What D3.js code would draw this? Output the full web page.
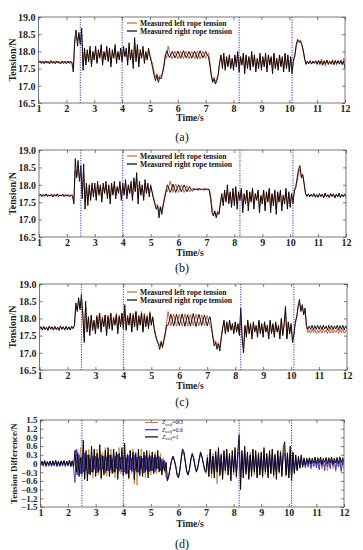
<!DOCTYPE html>
<html>
<head>
<meta charset="utf-8">
<script src="https://cdn.jsdelivr.net/npm/d3@7.9.0/dist/d3.min.js"></script>
<style>
  body { margin: 0; background: #fff; }
  svg { display: block; font-family: "Liberation Serif", "Times New Roman", serif; }
</style>
</head>
<body>
<svg id="chart" width="363" height="550"></svg>
<script>
// samples every 0.05 s from t = 1 s to t = 12 s (221 points per series)
const sampleStart = 1, sampleStep = 0.05;

const timeTicks = [1, 2, 3, 4, 5, 6, 7, 8, 9, 10, 11, 12];
const tensionTicks = [16.5, 17.0, 17.5, 18.0, 18.5, 19.0];
const diffTicks = [-1.5, -1.2, -0.9, -0.6, -0.3, 0, 0.3, 0.6, 0.9, 1.2, 1.5];
const markerTimes = [2.5, 4.0, 8.2, 10.1];
const ropeLabels = ['Measured left rope tension', 'Measured right rope tension'];
const dampingLabels = ['0.3', '0.6', '1'];

// (a)
const leftA = [
  17.70,17.67,17.72,17.66,17.71,17.67,17.72,17.65,17.71,17.68,17.72,17.66,17.71,17.67,17.72,17.65,17.70,17.67,17.72,17.66,
  17.71,17.67,17.72,17.66,17.70,17.55,18.25,18.45,18.30,18.50,18.25,18.50,17.60,18.00,17.70,17.95,17.75,18.05,17.65,17.95,
  17.80,18.05,17.70,17.95,17.85,18.10,17.70,17.95,17.80,18.05,17.75,18.00,17.65,17.95,17.85,18.10,17.75,17.95,17.80,18.05,
  17.75,18.05,17.85,18.00,17.70,18.15,17.80,17.95,17.65,18.25,17.80,18.10,17.65,17.95,17.85,18.05,17.75,17.95,17.80,18.00,
  17.90,17.75,17.60,17.40,17.25,17.35,17.20,17.30,17.28,17.40,17.60,17.90,17.80,18.15,18.00,17.88,17.78,17.90,18.00,17.89,
  17.78,17.89,18.00,17.90,17.79,17.90,18.01,17.89,17.78,17.90,18.00,17.91,17.79,17.89,18.01,17.90,17.78,17.89,18.00,17.90,
  17.80,17.90,17.95,17.70,17.35,17.15,17.25,17.10,17.20,17.35,17.65,17.85,17.60,17.85,17.55,17.80,17.60,17.85,17.55,17.75,
  17.55,17.85,17.60,17.90,17.50,17.80,17.65,17.85,17.45,17.85,17.60,17.80,17.55,17.90,17.60,17.85,17.50,17.75,17.60,17.85,
  17.55,17.80,17.60,17.85,17.50,17.85,17.65,17.80,17.45,17.90,17.55,17.75,17.55,17.85,17.60,17.80,17.50,17.90,17.55,17.85,
  17.50,17.80,17.45,17.70,17.85,18.15,18.30,18.25,18.30,18.18,18.00,17.78,17.65,17.70,17.66,17.71,17.64,17.70,17.67,17.72,
  17.65,17.72,17.60,17.78,17.63,17.70,17.58,17.74,17.66,17.70,17.62,17.76,17.64,17.71,17.60,17.75,17.65,17.70,17.62,17.80,
  17.70
];
const rightA = [
  17.68,17.72,17.65,17.71,17.64,17.72,17.66,17.71,17.64,17.73,17.65,17.71,17.64,17.72,17.66,17.70,17.64,17.72,17.65,17.71,
  17.64,17.72,17.65,17.71,17.66,17.40,18.35,18.62,18.15,18.55,18.20,18.68,17.45,18.10,17.60,18.05,17.70,18.15,17.55,18.00,
  17.75,18.15,17.65,18.05,17.80,18.20,17.60,18.00,17.75,18.15,17.70,18.10,17.55,18.05,17.80,18.20,17.65,18.00,17.75,18.10,
  17.70,18.15,17.85,18.10,17.60,18.25,17.75,18.05,17.50,18.40,17.70,18.20,17.55,18.05,17.80,18.15,17.65,18.00,17.75,18.10,
  17.85,17.70,17.50,17.30,17.15,17.30,17.10,17.25,17.20,17.35,17.55,17.85,18.02,17.92,17.82,17.90,18.00,17.91,17.81,17.90,
  18.01,17.91,17.80,17.90,18.02,17.92,17.81,17.89,18.00,17.90,17.80,17.91,18.01,17.90,17.79,17.90,18.02,17.91,17.81,17.90,
  18.00,17.90,17.85,17.60,17.30,17.10,17.20,17.05,17.15,17.30,17.70,17.90,17.50,17.95,17.45,17.85,17.55,17.90,17.50,17.80,
  17.45,17.90,17.55,18.00,17.40,17.85,17.60,17.95,17.35,17.90,17.50,17.85,17.45,18.00,17.55,17.90,17.40,17.80,17.50,17.95,
  17.45,17.85,17.55,17.95,17.40,17.90,17.60,17.85,17.35,17.95,17.50,17.80,17.45,17.90,17.55,17.85,17.40,17.95,17.50,17.90,
  17.40,17.85,17.35,17.75,17.90,18.20,18.35,18.28,18.32,18.20,18.05,17.80,17.62,17.72,17.64,17.73,17.63,17.72,17.65,17.73,
  17.62,17.74,17.64,17.72,17.60,17.73,17.65,17.75,17.62,17.71,17.64,17.73,17.61,17.74,17.65,17.72,17.63,17.74,17.62,17.72,
  17.50
];

// (b)
const leftB = [
  17.71,17.68,17.72,17.67,17.71,17.69,17.72,17.67,17.70,17.69,17.72,17.68,17.71,17.67,17.72,17.68,17.70,17.69,17.71,17.68,
  17.71,17.68,17.70,17.67,17.71,17.55,18.40,18.25,18.45,18.20,18.35,17.75,18.30,17.50,17.95,17.55,17.90,17.65,17.95,17.75,
  17.95,17.65,18.00,17.75,17.95,17.60,17.95,17.80,18.00,17.70,17.95,17.60,17.95,17.75,18.00,17.70,17.90,17.80,18.00,17.65,
  17.95,17.75,18.05,17.70,17.95,17.80,18.00,17.65,18.10,17.85,18.20,17.60,18.00,17.75,17.95,17.65,18.05,17.80,17.95,17.75,
  17.95,17.80,17.65,17.50,17.40,17.42,17.20,17.38,17.25,17.45,17.65,17.85,17.80,17.95,18.10,17.95,17.78,17.92,18.02,17.90,
  17.78,17.90,18.00,17.90,17.78,17.88,17.98,17.88,17.80,17.86,17.90,17.85,17.88,17.86,17.90,17.85,17.88,17.86,17.89,17.85,
  17.88,17.85,17.88,17.70,17.35,17.15,17.20,17.10,17.25,17.20,17.45,17.65,17.50,17.75,17.55,17.85,17.55,17.75,17.45,17.80,
  17.50,17.85,17.45,17.75,17.60,17.85,17.35,17.70,17.55,17.80,17.40,17.75,17.55,17.85,17.45,17.70,17.60,17.80,17.35,17.65,
  17.55,17.80,17.40,17.75,17.55,17.85,17.35,17.70,17.50,17.80,17.30,17.75,17.55,17.80,17.40,17.65,17.55,17.85,17.40,17.75,
  17.45,17.70,17.55,17.80,17.90,18.10,18.35,18.45,18.25,18.25,18.00,17.75,17.68,17.72,17.67,17.71,17.68,17.73,17.66,17.71,
  17.66,17.73,17.68,17.71,17.64,17.74,17.67,17.70,17.65,17.73,17.68,17.72,17.64,17.71,17.67,17.74,17.65,17.70,17.68,17.72,
  17.68
];
const rightB = [
  17.68,17.73,17.66,17.72,17.67,17.74,17.66,17.71,17.68,17.73,17.65,17.72,17.67,17.74,17.66,17.71,17.68,17.73,17.66,17.72,
  17.67,17.72,17.66,17.71,17.68,17.45,18.75,18.20,18.70,18.10,18.55,17.60,18.60,17.30,18.05,17.40,18.00,17.55,18.05,17.65,
  18.05,17.55,18.10,17.70,18.00,17.50,18.05,17.75,18.10,17.60,18.00,17.45,18.05,17.70,18.10,17.60,17.95,17.75,18.10,17.55,
  18.05,17.70,18.15,17.60,18.00,17.75,18.10,17.55,18.20,17.80,18.35,17.45,18.10,17.70,18.00,17.55,18.15,17.75,18.05,17.65,
  18.00,17.80,17.60,17.45,17.30,17.40,17.05,17.35,17.15,17.40,17.60,17.80,18.00,17.90,17.78,17.88,18.02,17.90,17.78,17.90,
  18.00,17.90,17.80,17.90,18.00,17.90,17.80,17.88,17.95,17.86,17.82,17.90,17.85,17.89,17.84,17.90,17.86,17.88,17.84,17.90,
  17.85,17.89,17.84,17.60,17.20,17.10,17.25,17.05,17.20,17.15,17.50,17.75,17.40,17.85,17.50,18.00,17.45,17.80,17.35,17.90,
  17.40,17.95,17.30,17.80,17.55,17.90,17.20,17.75,17.45,17.85,17.25,17.80,17.50,17.90,17.30,17.75,17.55,17.85,17.20,17.70,
  17.45,17.85,17.25,17.80,17.50,17.90,17.20,17.75,17.40,17.85,17.15,17.80,17.50,17.85,17.25,17.70,17.45,17.90,17.30,17.80,
  17.35,17.75,17.45,17.85,17.95,18.20,18.45,18.55,18.20,18.30,18.05,17.75,17.66,17.74,17.65,17.73,17.66,17.75,17.64,17.72,
  17.64,17.75,17.66,17.73,17.62,17.76,17.65,17.72,17.63,17.75,17.66,17.74,17.62,17.73,17.65,17.76,17.63,17.72,17.66,17.74,
  17.65
];

// (c)
const leftC = [
  17.70,17.74,17.68,17.75,17.69,17.73,17.67,17.76,17.70,17.74,17.68,17.75,17.69,17.73,17.67,17.76,17.70,17.74,17.68,17.75,
  17.69,17.74,17.68,17.75,17.72,17.78,18.35,18.25,18.50,18.30,18.55,18.15,17.45,18.35,17.70,18.00,17.60,18.05,17.70,17.90,
  17.65,18.10,17.75,18.15,17.70,18.05,17.80,18.10,17.60,18.10,17.75,18.15,17.70,18.05,17.85,18.15,17.65,18.10,17.80,18.15,
  17.75,18.25,17.70,18.10,17.85,18.15,17.65,18.15,17.80,18.20,17.70,18.10,17.85,18.20,17.65,18.15,17.80,18.10,17.75,18.20,
  17.85,18.00,17.75,17.55,17.40,17.30,17.20,17.35,17.22,17.40,17.60,17.90,18.20,17.98,17.78,17.95,18.12,17.95,17.77,17.94,
  18.12,17.95,17.78,17.94,18.13,17.96,17.77,17.95,18.11,17.94,17.79,17.96,18.12,17.95,17.78,17.93,18.10,17.95,17.79,17.94,
  18.08,17.92,17.80,17.70,17.50,17.30,17.35,17.20,17.30,17.15,17.45,17.75,17.90,17.60,17.85,17.65,17.90,17.70,17.80,17.60,
  17.85,17.65,17.80,17.55,18.15,17.50,17.15,17.75,17.55,17.90,17.60,17.80,17.50,17.85,17.65,17.75,17.55,17.90,17.60,17.80,
  17.55,17.85,17.65,17.75,17.50,17.90,17.60,17.80,17.55,17.85,17.65,17.75,17.50,17.95,17.55,17.80,18.20,17.45,17.85,17.60,
  17.80,17.40,17.55,17.85,18.00,18.30,18.45,18.25,18.35,18.15,18.20,17.75,17.58,17.66,17.57,17.68,17.59,17.67,17.56,17.66,
  17.58,17.67,17.57,17.68,17.59,17.66,17.56,17.68,17.58,17.67,17.57,17.66,17.59,17.68,17.56,17.67,17.58,17.68,17.57,17.66,
  17.62
];
const rightC = [
  17.68,17.76,17.66,17.77,17.67,17.75,17.65,17.78,17.68,17.76,17.66,17.77,17.67,17.75,17.65,17.78,17.68,17.76,17.66,17.77,
  17.67,17.76,17.66,17.77,17.70,17.80,18.45,18.20,18.60,18.25,18.70,18.10,17.30,18.50,17.60,18.05,17.50,18.10,17.65,17.95,
  17.55,18.05,17.70,18.15,17.60,18.00,17.75,18.10,17.50,18.05,17.70,18.15,17.65,18.00,17.80,18.10,17.55,18.05,17.75,18.15,
  17.70,18.40,17.65,18.05,17.80,18.15,17.60,18.10,17.75,18.20,17.65,18.05,17.80,18.15,17.60,18.10,17.75,18.05,17.70,18.15,
  17.80,18.05,17.70,17.50,17.35,17.25,17.10,17.30,17.15,17.35,17.55,17.80,17.80,17.95,18.12,17.95,17.78,17.95,18.12,17.95,
  17.79,17.94,18.13,17.96,17.77,17.95,18.11,17.93,17.78,17.96,18.14,17.95,17.76,17.94,18.12,17.97,17.79,17.95,18.10,17.94,
  17.78,17.95,18.05,17.80,17.45,17.20,17.30,17.10,17.25,17.05,17.40,17.70,17.95,17.55,17.90,17.60,17.95,17.65,17.85,17.55,
  17.90,17.60,17.85,17.50,18.30,17.40,17.00,17.80,17.45,17.95,17.55,17.85,17.40,17.90,17.60,17.80,17.45,17.95,17.55,17.85,
  17.45,17.90,17.60,17.80,17.40,17.95,17.55,17.85,17.45,17.90,17.60,17.80,17.40,18.00,17.50,17.85,18.35,17.40,17.90,17.55,
  17.85,17.30,17.50,17.90,18.05,18.35,18.55,18.20,18.40,18.10,18.30,17.80,17.68,17.78,17.68,17.80,17.67,17.79,17.68,17.80,
  17.68,17.79,17.67,17.80,17.69,17.78,17.66,17.80,17.68,17.79,17.67,17.78,17.69,17.80,17.66,17.79,17.68,17.80,17.67,17.78,
  17.70
];

// (d) tension difference for the three damping values
const diff03 = [
  -0.08,0.07,-0.10,0.09,-0.07,0.08,-0.11,0.06,-0.09,0.10,-0.08,0.07,-0.10,0.09,-0.06,0.08,-0.09,0.07,-0.11,0.09,
  -0.07,0.10,-0.09,0.08,-0.12,0.30,-0.40,0.45,-0.30,0.55,-0.45,0.60,-0.50,0.35,-0.45,0.50,-0.35,0.40,-0.50,0.45,
  -0.35,0.50,-0.40,0.45,-0.55,0.40,-0.30,0.55,-0.45,0.35,-0.40,0.50,-0.30,0.45,-0.50,0.35,-0.40,0.55,-0.35,0.40,
  -0.45,0.50,-0.40,0.35,-0.55,0.45,-0.35,0.50,-0.70,0.40,-0.75,0.35,-0.45,0.50,-0.40,0.30,-0.50,0.40,-0.35,0.45,
  -0.40,0.35,-0.30,0.40,-0.35,0.30,-0.25,0.35,-0.30,0.20,-0.30,0.00,-0.55,-0.42,-0.12,0.12,0.26,0.14,-0.06,-0.38,
  -0.48,-0.24,0.18,0.46,0.38,0.06,-0.28,-0.38,-0.20,0.14,0.33,0.20,-0.08,-0.28,-0.14,0.14,0.36,0.24,0.02,-0.22,
  -0.35,0.30,-0.45,0.40,-0.50,0.35,-0.40,0.45,-0.70,0.40,-0.45,0.35,-0.50,0.40,-0.35,0.45,-0.40,0.30,-0.55,0.40,
  -0.40,0.45,-0.50,0.35,0.80,-0.70,0.40,-0.45,0.50,-0.40,0.35,-0.50,0.40,-0.35,0.45,-0.40,0.35,-0.45,0.40,-0.35,
  0.35,-0.50,0.45,-0.40,0.30,-0.45,0.40,-0.35,0.45,-0.50,0.35,-0.40,0.40,-0.35,0.45,-0.40,0.30,0.60,-0.45,0.40,
  -0.45,0.50,-0.50,0.35,-0.30,0.25,-0.22,0.20,-0.18,0.22,-0.15,0.15,-0.12,0.18,-0.10,0.20,-0.14,0.16,-0.12,0.18,
  -0.10,0.18,-0.15,0.20,-0.20,0.15,-0.12,0.18,-0.25,0.16,-0.10,0.20,-0.18,0.15,-0.28,0.18,-0.12,0.20,-0.30,0.15,
  -0.20
];
const diff06 = [
  -0.10,0.06,-0.09,0.08,-0.11,0.05,-0.08,0.07,-0.10,0.06,-0.09,0.09,-0.11,0.05,-0.10,0.08,-0.08,0.07,-0.10,0.06,
  -0.09,0.08,-0.12,0.07,-0.15,-0.65,0.50,-0.40,0.30,-0.35,0.25,-0.30,0.35,-0.25,0.30,-0.35,0.20,-0.30,0.25,-0.20,
  0.25,-0.32,0.18,-0.24,0.31,-0.19,0.27,-0.33,0.21,-0.26,0.29,-0.22,0.17,-0.31,0.26,-0.18,0.33,-0.27,0.22,-0.29,
  0.24,-0.30,0.20,-0.35,0.28,-0.22,0.18,-0.28,0.30,-0.24,0.22,-0.31,0.26,-0.20,0.19,-0.33,0.27,-0.23,0.21,-0.28,
  0.25,-0.26,0.20,-0.30,0.22,-0.18,0.24,-0.25,0.15,-0.20,0.10,-0.45,-0.55,-0.40,-0.15,0.10,0.22,0.12,-0.08,-0.35,
  -0.45,-0.22,0.15,0.42,0.35,0.05,-0.25,-0.35,-0.18,0.12,0.30,0.18,-0.08,-0.25,-0.12,0.12,0.32,0.22,0.02,-0.20,
  -0.25,0.15,-0.30,0.35,-0.20,0.25,-0.32,0.28,-0.22,0.30,-0.28,0.24,-0.35,0.26,-0.20,0.30,-0.26,0.22,-0.30,0.25,
  -0.22,0.30,-0.28,0.25,0.40,-0.45,0.30,-0.25,0.35,-0.28,0.22,-0.30,0.26,-0.24,0.30,-0.22,0.28,-0.30,0.24,-0.26,
  0.28,-0.25,0.30,-0.22,0.26,-0.30,0.24,-0.28,0.32,-0.24,0.22,-0.30,0.27,-0.23,0.29,-0.26,0.25,0.35,-0.30,0.24,
  -0.35,0.35,-0.40,0.30,-0.28,0.22,-0.20,0.18,-0.15,0.20,-0.12,0.12,-0.15,0.10,-0.12,0.14,-0.18,0.10,-0.10,0.12,
  -0.15,0.10,-0.22,0.12,-0.10,0.08,-0.25,0.12,-0.12,0.10,-0.18,0.14,-0.08,0.10,-0.22,0.12,-0.12,0.08,-0.25,0.10,
  -0.05
];
const diff10 = [
  -0.06,0.08,-0.05,0.10,-0.08,0.06,-0.04,0.09,-0.07,0.08,-0.05,0.11,-0.06,0.07,-0.08,0.09,-0.04,0.10,-0.06,0.08,
  -0.05,0.12,-0.08,0.10,-0.10,0.45,-0.30,0.35,-0.45,0.20,-0.35,0.80,-0.55,0.45,-0.60,0.30,-0.40,0.60,-0.30,0.50,
  -0.45,0.35,-0.30,0.65,-0.50,0.25,-0.40,0.45,-0.25,0.55,-0.45,0.30,-0.35,0.50,-0.30,0.40,-0.55,0.35,-0.20,0.55,
  -0.40,0.70,-0.35,0.30,-0.50,0.45,-0.25,0.40,-0.55,0.35,-0.30,0.50,-0.40,0.25,-0.45,0.40,-0.30,0.45,-0.50,0.30,
  -0.25,0.40,-0.35,0.30,-0.20,0.45,-0.30,0.20,-0.40,0.10,-0.25,0.05,-0.60,-0.45,-0.15,0.10,0.25,0.10,-0.10,-0.40,
  -0.50,-0.25,0.20,0.50,0.40,0.05,-0.30,-0.40,-0.20,0.15,0.35,0.20,-0.10,-0.30,-0.15,0.15,0.40,0.25,0.00,-0.25,
  -0.30,0.20,-0.45,0.50,-0.35,0.25,-0.50,0.40,-0.30,0.55,-0.40,0.30,-0.55,0.45,-0.25,0.50,-0.40,0.35,-0.60,0.45,
  -0.30,0.55,-0.45,0.40,1.00,-0.90,0.45,-0.50,0.60,-0.35,0.40,-0.55,0.30,-0.45,0.50,-0.30,0.45,-0.50,0.35,-0.40,
  0.40,-0.45,0.55,-0.30,0.35,-0.50,0.45,-0.35,0.50,-0.40,0.30,-0.55,0.45,-0.30,0.40,-0.45,0.55,0.75,-0.40,0.35,
  -0.50,0.60,-0.60,0.40,-0.35,0.30,-0.25,0.25,-0.15,0.30,-0.10,0.20,-0.05,0.18,0.00,0.20,-0.02,0.18,0.02,0.22,
  0.00,0.20,0.02,0.22,-0.02,0.18,0.04,0.21,0.00,0.20,0.03,0.22,-0.01,0.19,0.02,0.21,0.00,0.23,0.03,0.20,
  0.05
];

const leftColor = '#cc4a24', rightColor = '#000000';
const dampColors = ['#c4843c', '#3b2cf0', '#000000'];

const svg = d3.select('#chart');

const panels = [
  { key: 'a', top: 17, bottom: 103, left: 38.5, right: 345, timeY: 121, captionY: 141,
    yDomain: [16.5, 19], yTicks: tensionTicks, yFmt: d3.format('.1f'), yLabel: 'Tension/N', yLabelX: 12, yFont: 10,
    series: [leftA, rightA], colors: [leftColor, rightColor], legendTop: 23 },
  { key: 'b', top: 150, bottom: 237, left: 39, right: 346, timeY: 256, captionY: 272,
    yDomain: [16.5, 19], yTicks: tensionTicks, yFmt: d3.format('.1f'), yLabel: 'Tension/N', yLabelX: 12, yFont: 10,
    series: [leftB, rightB], colors: [leftColor, rightColor], legendTop: 156 },
  { key: 'c', top: 284, bottom: 370, left: 39.5, right: 347, timeY: 389, captionY: 406,
    yDomain: [16.5, 19], yTicks: tensionTicks, yFmt: d3.format('.1f'), yLabel: 'Tension/N', yLabelX: 12, yFont: 10,
    series: [leftC, rightC], colors: [leftColor, rightColor], legendTop: 292 },
  { key: 'd', top: 420, bottom: 507, left: 40.5, right: 344, timeY: 526.5, captionY: 548,
    yDomain: [-1.5, 1.5], yTicks: diffTicks, yFmt: d => d === 0 ? '0' : d3.format('.1f')(d), yLabel: 'Tension Difference/N', yLabelX: 14, yFont: 9,
    series: [diff03, diff06, diff10], colors: dampColors, legendTop: 422.5 }
];

function drawPanel(p) {
  const x = d3.scaleLinear().domain([1, 12]).range([p.left, p.right]);
  const y = d3.scaleLinear().domain(p.yDomain).range([p.bottom, p.top]);
  const g = svg.append('g');

  svg.append('clipPath').attr('id', 'clip-' + p.key)
    .append('rect').attr('x', p.left).attr('y', p.top)
    .attr('width', p.right - p.left).attr('height', p.bottom - p.top);

  const line = d3.line()
    .x((d, i) => x(sampleStart + i * sampleStep))
    .y(d => y(d));

  const plot = g.append('g').attr('clip-path', `url(#clip-${p.key})`);
  p.series.forEach((vals, i) => {
    plot.append('path')
      .attr('d', line(vals))
      .attr('fill', 'none')
      .attr('stroke', p.colors[i])
      .attr('stroke-width', 0.9)
      .attr('stroke-linejoin', 'round');
  });

  // event markers
  markerTimes.forEach(t => {
    g.append('line')
      .attr('x1', x(t)).attr('x2', x(t))
      .attr('y1', p.top).attr('y2', p.bottom)
      .attr('stroke', '#2b2be6')
      .attr('stroke-width', 1)
      .attr('stroke-dasharray', '1.2,1.3');
  });

  // frame
  g.append('rect')
    .attr('x', p.left).attr('y', p.top)
    .attr('width', p.right - p.left).attr('height', p.bottom - p.top)
    .attr('fill', 'none').attr('stroke', '#555').attr('stroke-width', 0.8);

  const styleAxis = sel => {
    sel.select('.domain').remove();
    sel.selectAll('.tick line').attr('stroke', '#444').attr('stroke-width', 0.7);
    sel.selectAll('.tick text')
      .attr('fill', '#222')
      .attr('font-weight', 'bold')
      .attr('font-family', '"Liberation Serif", serif');
  };

  g.append('g').attr('transform', `translate(0,${p.bottom})`)
    .call(d3.axisBottom(x).tickValues(timeTicks).tickSizeInner(-3).tickSizeOuter(0).tickPadding(1.5))
    .call(styleAxis)
    .call(s => s.selectAll('.tick text').attr('font-size', 10));

  g.append('g').attr('transform', `translate(0,${p.top})`)
    .call(d3.axisTop(x).tickValues(timeTicks).tickSizeInner(-3).tickSizeOuter(0).tickFormat(''))
    .call(styleAxis);

  g.append('g').attr('transform', `translate(${p.left},0)`)
    .call(d3.axisLeft(y).tickValues(p.yTicks).tickFormat(p.yFmt).tickSizeInner(-3).tickSizeOuter(0).tickPadding(3))
    .call(styleAxis)
    .call(s => s.selectAll('.tick text').attr('font-size', p.yFont));

  g.append('g').attr('transform', `translate(${p.right},0)`)
    .call(d3.axisRight(y).tickValues(p.yTicks).tickSizeInner(-3).tickSizeOuter(0).tickFormat(''))
    .call(styleAxis);

  // axis titles
  g.append('text')
    .attr('x', 190).attr('y', p.timeY)
    .attr('text-anchor', 'middle')
    .attr('font-size', 9.5).attr('font-weight', 'bold').attr('fill', '#222')
    .text('Time/s');

  g.append('text')
    .attr('transform', `translate(${p.yLabelX},${(p.top + p.bottom) / 2}) rotate(-90)`)
    .attr('text-anchor', 'middle')
    .attr('dy', '0.35em')
    .attr('font-size', p.yFont).attr('font-weight', 'bold').attr('fill', '#222')
    .text(p.yLabel);

  g.append('text')
    .attr('x', 182).attr('y', p.captionY)
    .attr('text-anchor', 'middle')
    .attr('font-size', 12).attr('fill', '#111')
    .text(`(${p.key})`);
}

panels.forEach(drawPanel);

// legends for (a)-(c)
panels.slice(0, 3).forEach(p => {
  const lg = svg.append('g').attr('transform', `translate(127,${p.legendTop})`);
  ropeLabels.forEach((label, i) => {
    const row = lg.append('g').attr('transform', `translate(0,${i * 8})`);
    row.append('line').attr('x1', 0).attr('x2', 10).attr('y1', 0).attr('y2', 0)
      .attr('stroke', i === 0 ? '#c06a30' : '#000').attr('stroke-width', 1.2);
    row.append('text').attr('x', 13).attr('y', 0).attr('dy', '0.33em')
      .attr('font-size', 7.6).attr('font-weight', 'bold').attr('fill', '#111')
      .text(label);
  });
});

// legend for (d)
{
  const p = panels[3];
  const lg = svg.append('g').attr('transform', `translate(145,${p.legendTop})`);
  dampingLabels.forEach((label, i) => {
    const row = lg.append('g').attr('transform', `translate(0,${i * 7.2})`);
    row.append('line').attr('x1', 0).attr('x2', 13).attr('y1', 0).attr('y2', 0)
      .attr('stroke', dampColors[i]).attr('stroke-width', 1.2);
    const t = row.append('text').attr('x', 17).attr('y', 0).attr('dy', '0.33em')
      .attr('font-size', 6).attr('fill', '#111');
    t.append('tspan').attr('font-style', 'italic').text('Z');
    t.append('tspan').attr('font-style', 'italic').attr('font-size', 4).attr('dy', 1.2).text('wolf');
    t.append('tspan').attr('dy', -1.2).text('=' + label);
  });
}
</script>
</body>
</html>
